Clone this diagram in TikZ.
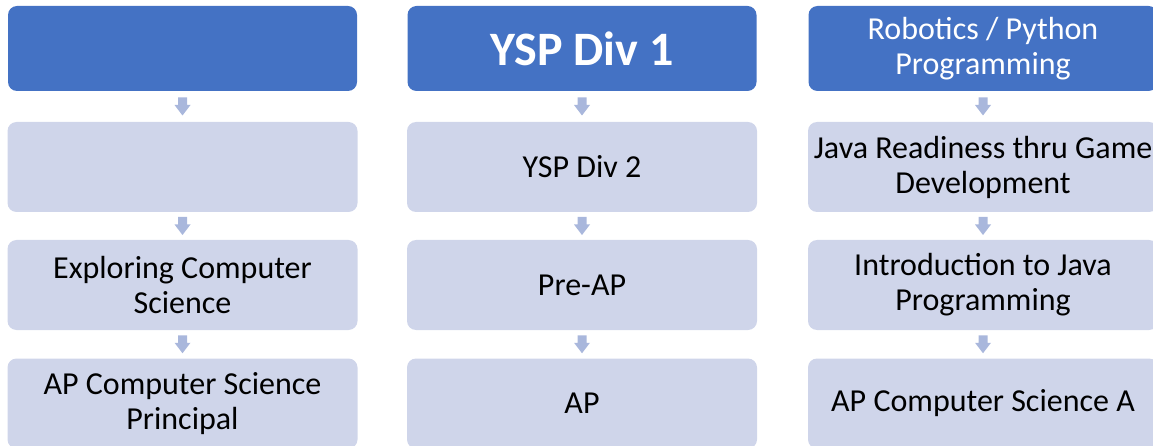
\documentclass[tikz,border=0pt]{standalone}
\usepackage{fontspec}
\setmainfont{Carlito}
\usetikzlibrary{calc}
\definecolor{hdr}{HTML}{4472C4}
\definecolor{lite}{HTML}{CFD5EA}
\definecolor{arr}{HTML}{A9B7DC}
\tikzset{
  hdrbox/.style={fill=hdr, rounded corners=9pt, minimum width=349pt, minimum height=85pt, align=center, text=white, inner sep=0pt, font=\fontsize{32}{35}\selectfont},
  litebox/.style={fill=lite, rounded corners=9pt, minimum width=350pt, minimum height=90pt, align=center, text=black, inner sep=0pt, font=\fontsize{32}{35}\selectfont},
  arrfill/.style={fill=arr}
}
\newcommand{\downarr}[2]{%
  \coordinate (m) at ($(#1.south)!0.5!(#2.north)$);
  \fill[arrfill] ($(m)+(-4.5,9)$) -- ($(m)+(4.5,9)$) -- ($(m)+(4.5,1.5)$) -- ($(m)+(8,1.5)$) -- ($(m)+(0,-9)$) -- ($(m)+(-8,1.5)$) -- ($(m)+(-4.5,1.5)$) -- cycle;
}
\begin{document}
\begin{tikzpicture}[x=1pt,y=1pt]
\useasboundingbox (0,0) rectangle (1153,-446);
% column 1
\node[hdrbox] (h1) at (182.5,-48.5) {};
\node[litebox] (a1) at (182.5,-167) {};
\node[litebox] (b1) at (182.5,-285) {Exploring Computer\\Science};
\node[litebox] (c1) at (182.5,-403.5) {AP Computer Science\\Principal};
% column 2
\node[hdrbox, font=\bfseries\fontsize{48}{52}\selectfont] (h2) at (582,-48.5) {YSP Div 1};
\node[litebox] (a2) at (582,-167) {YSP Div 2};
\node[litebox] (b2) at (582,-285) {Pre-AP};
\node[litebox] (c2) at (582,-403.5) {AP};
% column 3
\node[hdrbox] (h3) at (983,-48.5) {Robotics / Python\\Programming};
\node[litebox] (a3) at (983,-167) {Java Readiness thru Game\\Development};
\node[litebox] (b3) at (983,-285) {Introduction to Java\\Programming};
\node[litebox] (c3) at (983,-403.5) {AP Computer Science A};
% arrows
\downarr{h1}{a1}\downarr{a1}{b1}\downarr{b1}{c1}
\downarr{h2}{a2}\downarr{a2}{b2}\downarr{b2}{c2}
\downarr{h3}{a3}\downarr{a3}{b3}\downarr{b3}{c3}
\end{tikzpicture}
\end{document}
